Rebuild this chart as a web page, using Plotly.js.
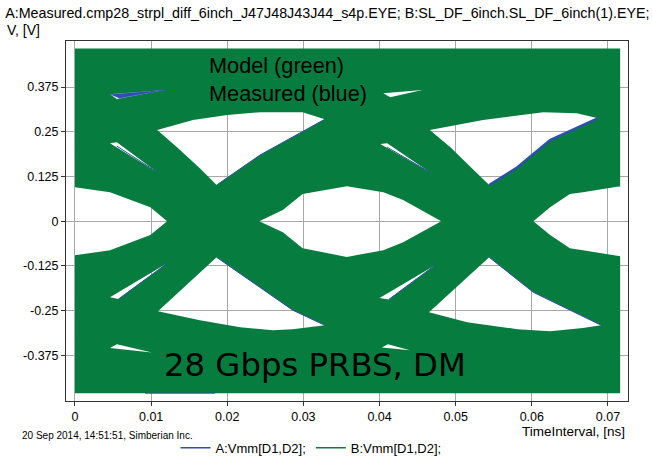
<!DOCTYPE html>
<html>
<head>
<meta charset="utf-8">
<script src="https://cdn.plot.ly/plotly-3.0.1.min.js"></script>
<style>html,body{margin:0;padding:0;background:#fff}#chart{width:652px;height:458px}</style>
</head>
<body>
<div id="chart"></div>
<script>
// ---- data (time in ns, voltage in V) ----
var envelopeT = [0, 0.0716, 0.0716, 0];
var envelopeV = [-0.481, -0.481, 0.483, 0.483];

// white eye openings (holes in the green model envelope)
var eyeLeftT = [0, 0.0046, 0.0099, 0.0121, 0.0099, 0.0046, 0];
var eyeLeftV = [0.095, 0.081, 0.039, 0, -0.039, -0.081, -0.095];
var eyeCenterT = [0.0242, 0.0273, 0.0299, 0.0357, 0.0405, 0.0431, 0.0481, 0.0431, 0.0405, 0.0357, 0.0299, 0.0273];
var eyeCenterV = [0, 0.031, 0.076, 0.098, 0.081, 0.059, 0, -0.059, -0.081, -0.100, -0.076, -0.031];
var eyeRightT = [0.0602, 0.0624, 0.0650, 0.0667, 0.0716, 0.0716, 0.0667, 0.0650, 0.0624];
var eyeRightV = [0, 0.039, 0.076, 0.081, 0.098, -0.098, -0.081, -0.076, -0.039];
var upperLeftT = [0.0108, 0.0155, 0.0200, 0.0243, 0.0299, 0.0328, 0.0243, 0.0186, 0.0164, 0.0134];
var upperLeftV = [0.255, 0.283, 0.297, 0.305, 0.305, 0.285, 0.185, 0.101, 0.148, 0.207];
var upperRightT = [0.0466, 0.0502, 0.0536, 0.0615, 0.0659, 0.0687, 0.0624, 0.0581, 0.0544, 0.0528, 0.0493];
var upperRightV = [0.255, 0.269, 0.283, 0.305, 0.302, 0.288, 0.227, 0.151, 0.101, 0.134, 0.207];
var lowerLeftT = [0.0186, 0.0286, 0.0328, 0.0286, 0.0260, 0.0217, 0.0164, 0.0109];
var lowerLeftV = [-0.101, -0.249, -0.291, -0.302, -0.305, -0.297, -0.277, -0.252];
var lowerRightT = [0.0544, 0.0602, 0.0691, 0.0667, 0.0624, 0.0581, 0.0515, 0.0465];
var lowerRightV = [-0.101, -0.199, -0.291, -0.299, -0.308, -0.302, -0.283, -0.255];
// thin slivers
var sliverT = [
  [0.0046, 0.0118, 0.0055],
  [0.0046, 0.0055, 0.0108, 0.0053],
  [0.0405, 0.0456, 0.0414],
  [0.0401, 0.0410, 0.0466, 0.0408],
  [0.0046, 0.0121, 0.0057],
  [0.0046, 0.0055, 0.0101],
  [0.0400, 0.0473, 0.0412],
  [0.0403, 0.0411, 0.0440]
];
var sliverV = [
  [0.355, 0.367, 0.342],
  [0.218, 0.221, 0.137, 0.210],
  [0.358, 0.367, 0.347],
  [0.216, 0.218, 0.137, 0.207],
  [-0.213, -0.118, -0.218],
  [-0.355, -0.344, -0.367],
  [-0.215, -0.123, -0.219],
  [-0.353, -0.344, -0.361]
];
// measured (blue) edges visible outside the model envelope
var measEdgesT = [
  [0.0186, 0.0243, 0.0328],
  [0.0186, 0.0286, 0.0328],
  [0.0544, 0.0602, 0.0691],
  [0.0055, 0.0108],
  [0.0410, 0.0466],
  [0.0057, 0.0121],
  [0.0412, 0.0473],
  [0.0092, 0.0184]
];
var measEdgesV = [
  [0.101, 0.185, 0.285],
  [-0.101, -0.249, -0.291],
  [-0.101, -0.199, -0.291],
  [0.210, 0.137],
  [0.207, 0.137],
  [-0.218, -0.118],
  [-0.219, -0.123],
  [-0.481, -0.481]
];
var measThickT = [0.0544, 0.0581, 0.0624, 0.0687];
var measThickV = [0.101, 0.151, 0.227, 0.288];
var measSliverT = [0.0046, 0.0118, 0.0058];
var measSliverV = [0.354, 0.367, 0.344];

var xTickVals = [0, 0.01, 0.02, 0.03, 0.04, 0.05, 0.06, 0.07];
var xTickText = ['0', '0.01', '0.02', '0.03', '0.04', '0.05', '0.06', '0.07'];
var yTickVals = [-0.375, -0.25, -0.125, 0, 0.125, 0.25, 0.375];
var yTickText = ['-0.375', '-0.25', '-0.125', '0', '0.125', '0.25', '0.375'];

var seriesNames = ['A:Vmm[D1,D2];', 'B:Vmm[D1,D2];'];
var GREEN = '#077c3f', BLUE = '#2f4fae';

// ---- build one polygon with holes (nonzero winding) ----
var holesT = [eyeLeftT, eyeCenterT, eyeRightT, upperLeftT, upperRightT, lowerLeftT, lowerRightT].concat(sliverT);
var holesV = [eyeLeftV, eyeCenterV, eyeRightV, upperLeftV, upperRightV, lowerLeftV, lowerRightV].concat(sliverV);
var polyX = envelopeT.slice(), polyY = envelopeV.slice();
polyX.push(envelopeT[0]); polyY.push(envelopeV[0]);
for (var i = 0; i < holesT.length; i++) {
  polyX.push(null); polyY.push(null);
  polyX = polyX.concat(holesT[i], [holesT[i][0]]);
  polyY = polyY.concat(holesV[i], [holesV[i][0]]);
}
var edgeX = [], edgeY = [];
for (var j = 0; j < measEdgesT.length; j++) {
  if (j) { edgeX.push(null); edgeY.push(null); }
  edgeX = edgeX.concat(measEdgesT[j]);
  edgeY = edgeY.concat(measEdgesV[j]);
}

var traces = [
  {x: polyX, y: polyY, type: 'scatter', mode: 'lines', fill: 'toself', fillcolor: GREEN,
   line: {width: 0, color: GREEN}, showlegend: false, hoverinfo: 'skip'},
  {x: edgeX, y: edgeY, type: 'scatter', mode: 'lines', line: {width: 1, color: BLUE}, showlegend: false, hoverinfo: 'skip'},
  {x: measThickT, y: measThickV, type: 'scatter', mode: 'lines', line: {width: 2.5, color: BLUE}, showlegend: false, hoverinfo: 'skip'},
  {x: measSliverT, y: measSliverV, type: 'scatter', mode: 'lines', fill: 'toself', fillcolor: BLUE, line: {width: 0.5, color: BLUE}, showlegend: false, hoverinfo: 'skip'},
  {x: [null], y: [null], type: 'scatter', mode: 'lines', name: seriesNames[0], line: {width: 1.5, color: BLUE}},
  {x: [null], y: [null], type: 'scatter', mode: 'lines', name: seriesNames[1], line: {width: 1.5, color: GREEN}}
];

var AF = 'Liberation Sans, Arial, sans-serif';
var layout = {
  width: 652, height: 458,
  margin: {l: 66, r: 24, t: 41, b: 57, pad: 0, autoexpand: false},
  paper_bgcolor: '#fff', plot_bgcolor: '#fff',
  font: {family: AF, size: 12, color: '#000'},
  title: {text: 'A:Measured.cmp28_strpl_diff_6inch_J47J48J43J44_s4p.EYE; B:SL_DF_6inch.SL_DF_6inch(1).EYE;',
          font: {family: AF, size: 14.3, color: '#000'}, x: 0.008, xref: 'container', xanchor: 'left',
          y: 1 - 13 / 458, yref: 'container', yanchor: 'middle'},
  xaxis: {range: [-0.00118, 0.07263], tickmode: 'array', tickvals: xTickVals, ticktext: xTickText,
          showgrid: true, gridcolor: '#a8a8a8', gridwidth: 1, zeroline: false,
          showline: true, linecolor: '#333', linewidth: 1, mirror: true,
          ticks: 'outside', ticklen: 4, tickcolor: '#333', tickfont: {size: 12.5}, fixedrange: true},
  yaxis: {range: [-0.503, 0.504], tickmode: 'array', tickvals: yTickVals, ticktext: yTickText,
          showgrid: true, gridcolor: '#a8a8a8', gridwidth: 1, zeroline: false,
          showline: true, linecolor: '#333', linewidth: 1, mirror: true,
          ticks: 'outside', ticklen: 4, tickcolor: '#333', tickfont: {size: 12.5}, fixedrange: true},
  showlegend: true,
  legend: {orientation: 'h', x: 0.436, xanchor: 'center', y: -0.13, yanchor: 'middle',
           font: {size: 13}, bgcolor: 'rgba(0,0,0,0)', traceorder: 'normal'},
  annotations: [
    {text: 'V, [V]', xref: 'paper', yref: 'paper', x: -0.1085, y: 1.0306, xanchor: 'left', yanchor: 'middle', showarrow: false, font: {size: 14}},
    {text: 'Model (green)', xref: 'paper', yref: 'paper', x: 0.2509, y: 0.9306, xanchor: 'left', yanchor: 'middle', showarrow: false, font: {size: 21.7}},
    {text: 'Measured (blue)', xref: 'paper', yref: 'paper', x: 0.2509, y: 0.855, xanchor: 'left', yanchor: 'middle', showarrow: false, font: {size: 21.7}},
    {text: '28 Gbps PRBS, DM', xref: 'paper', yref: 'paper', x: 0.1708, y: 0.1, xanchor: 'left', yanchor: 'middle', showarrow: false, font: {family: 'DejaVu Sans', size: 32.3}},
    {text: '20 Sep 2014, 14:51:51, Simberian Inc.', xref: 'paper', yref: 'paper', x: -0.0819, y: -0.095, xanchor: 'left', yanchor: 'middle', showarrow: false, font: {size: 10}},
    {text: 'TimeInterval, [ns]', xref: 'paper', yref: 'paper', x: 0.998, y: -0.086, xanchor: 'right', yanchor: 'middle', showarrow: false, font: {size: 13.5}}
  ]
};
Plotly.newPlot('chart', traces, layout, {staticPlot: true, displayModeBar: false});
</script>
</body>
</html>
